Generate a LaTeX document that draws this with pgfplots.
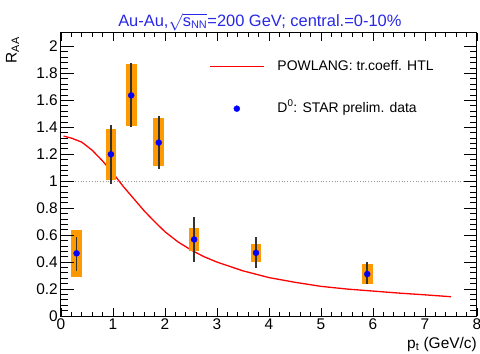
\documentclass[border=0pt]{standalone}
\usepackage{pgfplots}
\usepackage{pgfplotstable}
\pgfplotsset{compat=1.18}
\usepackage{fontspec}
\setmainfont{Liberation Sans}
\definecolor{rootorange}{RGB}{255,153,0}
\definecolor{titleblue}{RGB}{40,40,230}

\pgfplotsset{
  lineleg/.style={legend image code/.code={\draw[##1] (0bp,0bp) -- (54bp,0bp);}},
  markleg/.style={legend image code/.code={\draw[mark repeat=2, mark phase=2, ##1] plot coordinates {(0bp,0bp) (27bp,0bp) (54bp,0bp)};}},
  frame/.style={at={(0,0)}, anchor=south west,
    scale only axis, width=416bp, height=283bp,
    xmin=0, xmax=8, ymin=0, ymax=2.1,
    tick align=inside,
    every tick/.style={black, line width=0.8bp}},
}

\pgfplotstableread{
x    y     sp    sm    tp    tm
0.30 0.465 0.170 0.177 0.120 0.132
0.96 1.200 0.187 0.193 0.220 0.220
1.35 1.637 0.230 0.230 0.237 0.237
1.88 1.287 0.180 0.177 0.200 0.197
2.56 0.568 0.082 0.088 0.163 0.168
3.75 0.469 0.064 0.069 0.118 0.116
5.89 0.311 0.074 0.071 0.087 0.076
}\dataD

\pgfplotstableread{
x    y
0.05 1.335
0.2  1.320
0.4  1.290
0.6  1.230
0.8  1.150
1.0  1.060
1.2  0.960
1.4  0.870
1.6  0.780
1.8  0.700
2.0  0.625
2.25 0.550
2.5  0.490
2.75 0.440
3.0  0.400
3.5  0.335
4.0  0.285
4.5  0.250
5.0  0.220
5.5  0.200
6.0  0.185
6.5  0.170
7.0  0.157
7.5  0.143
}\curveD

\begin{document}
\begin{tikzpicture}
\begin{axis}[
  frame,
  xtick={0,1,2,3,4,5,6,7,8},
  ytick={0,0.2,0.4,0.6,0.8,1,1.2,1.4,1.6,1.8,2},
  minor x tick num=4, minor y tick num=4,
  major tick length=8bp, minor tick length=4bp,
  axis line style={line width=1bp},
  tick label style={font=\fontsize{15.5}{17}\selectfont},
  /pgf/number format/assume math mode=true,
  xticklabel style={inner sep=0pt, anchor=north, yshift=-3bp},
  yticklabel style={inner sep=0pt, anchor=east, xshift=-3bp},
  title={Au-Au,$\sqrt{\mbox{s}_{\mbox{\fontsize{11}{12}\selectfont NN}}}$=200 GeV; central.=0-10\%},
  title style={at={(0.478,1)}, anchor=base, yshift=1bp, inner sep=0pt,
    font=\fontsize{16.5}{18}\selectfont, text=titleblue},
  xlabel={p\textsubscript{t} (GeV/c)},
  xlabel style={at={(1,0)}, anchor=north east, inner sep=0pt, yshift=-21bp,
    font=\fontsize{15.5}{17}\selectfont},
  ylabel={R\textsubscript{AA}},
  ylabel style={at={(-0.1,0.986)}, anchor=south east, inner sep=0pt,
    font=\fontsize{15.5}{17}\selectfont},
  legend cell align=left,
  legend style={draw=none, fill=none, inner sep=0pt,
    at={(axis cs:2.846,1.90)}, anchor=north west,
    row sep=29bp, column sep=13bp,
    nodes={inner sep=0pt, text height=10bp, text depth=3bp,
      font=\fontsize{14}{16}\selectfont, anchor=west}},
]
\addplot[forget plot, gray!80, dotted, line width=0.8bp] coordinates {(0,1) (8,1)};

\addplot[red, line width=1.3bp, no markers, lineleg]
  table[x=x, y=y] {\curveD};
\addlegendentry{POWLANG: tr.coeff. HTL}

\addplot[forget plot, only marks, mark=none,
  error bars/.cd, y dir=both, y explicit,
  error bar style={line width=10.7bp, color=rootorange}, error mark=none]
  table[x=x, y=y, y error plus=sp, y error minus=sm] {\dataD};

\addplot[forget plot, only marks, mark=none,
  error bars/.cd, y dir=both, y explicit,
  error bar style={line width=1.6bp, color=black!80}, error mark=none]
  table[x=x, y=y, y error plus=tp, y error minus=tm] {\dataD};

\addplot[only marks, mark=*, mark size=3bp, blue, mark options={draw=blue, fill=blue}, markleg]
  table[x=x, y=y] {\dataD};
\addlegendentry{D\textsuperscript{0}: STAR prelim. data}
\end{axis}
\begin{axis}[
  frame,
  axis line style={draw=none},
  xtick=\empty,
  ytick={0,0.2,0.4,0.6,0.8,1,1.2,1.4,1.6,1.8,2},
  yticklabels={},
  minor y tick num=4,
  major tick length=12.5bp, minor tick length=6.5bp,
]
\end{axis}
\pgfresetboundingbox
\path[use as bounding box] (-61bp,-38bp) rectangle (419bp,316bp);
\end{tikzpicture}
\end{document}
